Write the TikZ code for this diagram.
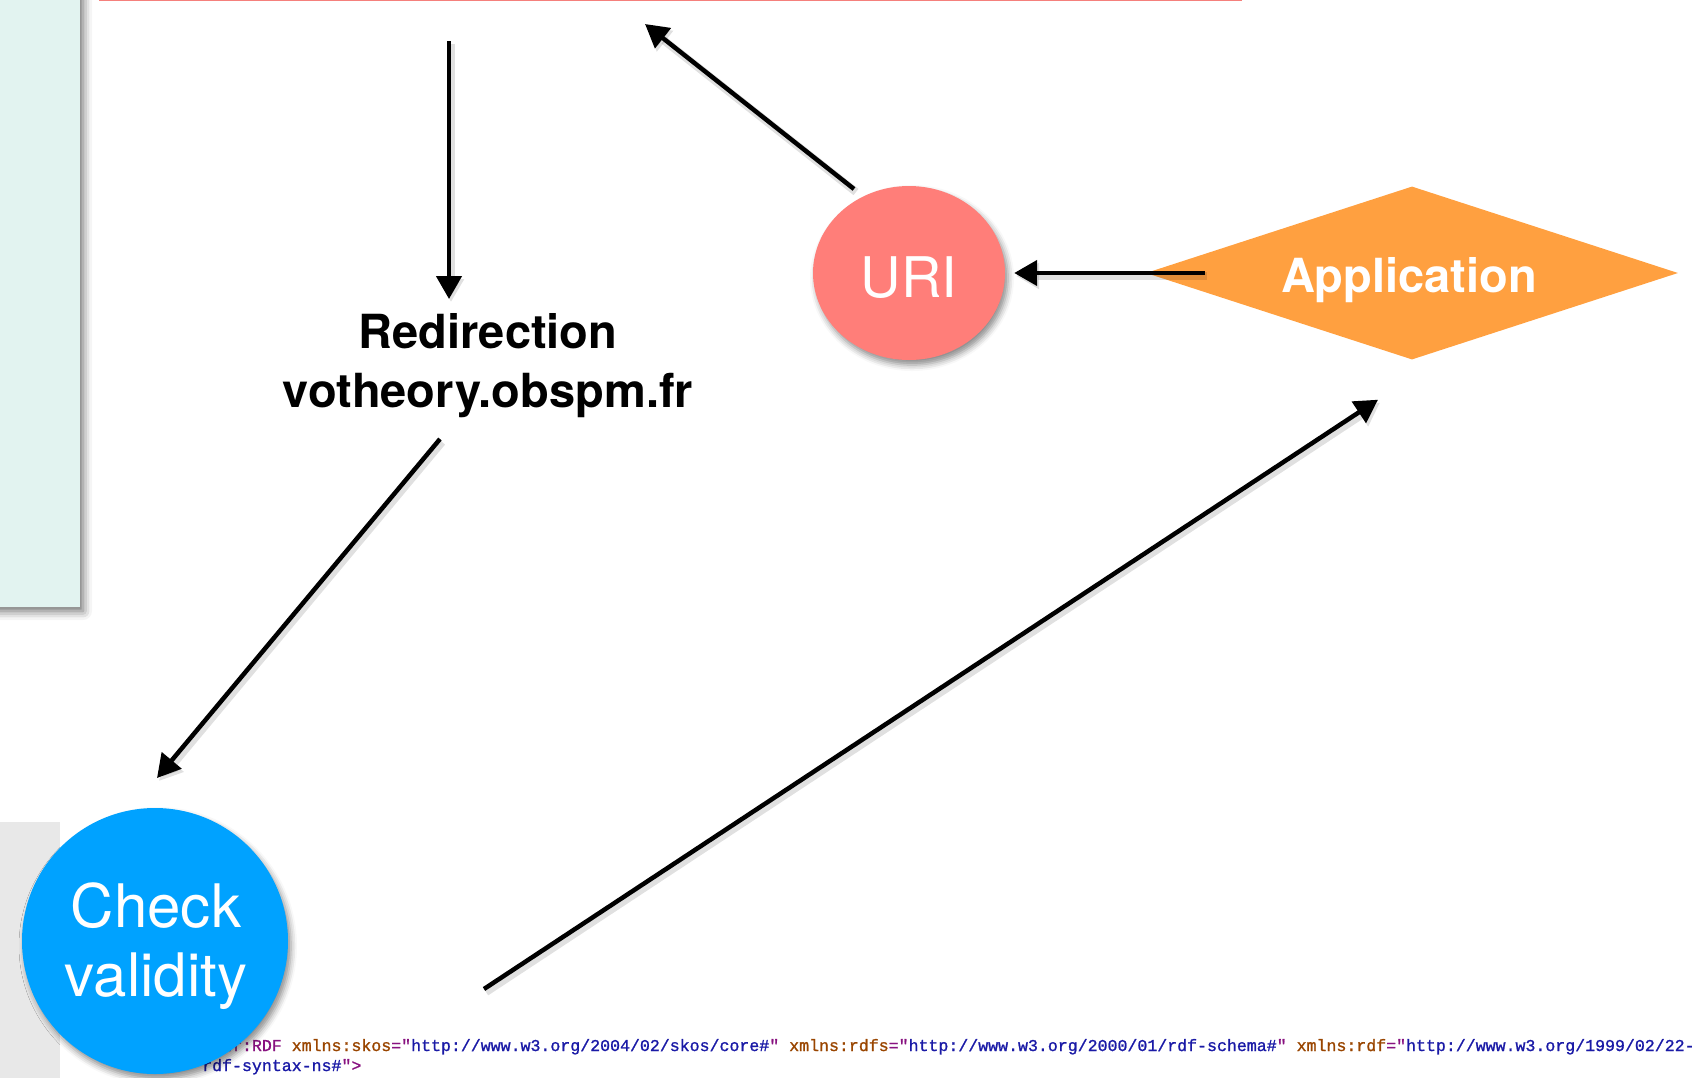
\documentclass[tikz,border=0pt]{standalone}
\usepackage{fontspec}
\setmainfont{TeX Gyre Heros}
\newfontfamily\codefont[FakeBold=1.2]{Liberation Mono}
\usetikzlibrary{arrows.meta,shapes.geometric,shadows.blur}

\definecolor{panelmint}{HTML}{E2F3F0}
\definecolor{panelgray}{HTML}{E8E8E8}
\definecolor{edgesalmon}{HTML}{F5807C}
\definecolor{urifill}{HTML}{FF7E79}
\definecolor{appfill}{HTML}{FFA040}
\definecolor{checkfill}{HTML}{00A2FF}
\definecolor{tagpurple}{HTML}{881280}
\definecolor{attrbrown}{HTML}{994500}
\definecolor{valblue}{HTML}{1A1AA6}

% syntax colouring for the XML source line
\newcommand{\xtag}[1]{\textcolor{tagpurple}{#1}}
\newcommand{\xattr}[1]{\textcolor{attrbrown}{#1}}
\newcommand{\xval}[1]{\textcolor{valblue}{#1}}

\tikzset{
  flow/.style={line width=4.5pt, draw=black, line cap=butt,
    -{Triangle[length=23pt,width=25pt]},
    preaction={draw=black, opacity=0.12, line width=8pt,
      transform canvas={shift={(2pt,-3pt)}}}},
  softshadow/.style={blur shadow={shadow xshift=3pt, shadow yshift=-5pt,
      shadow blur radius=6pt, shadow opacity=45}},
  boldlabel/.style={font=\fontsize{47}{59}\selectfont\bfseries, align=center, inner sep=0pt},
  whitelabel/.style={text=white, inner sep=0pt},
}

\begin{document}
\begin{tikzpicture}[x=1pt,y=-1pt]
\useasboundingbox (0,0) rectangle (1695,1077);
\clip (0,0) rectangle (1695,1077);

% side panels at the left edge
\fill[panelmint, blur shadow={shadow xshift=3pt, shadow yshift=-4pt,
      shadow blur radius=9pt, shadow opacity=60}]
  (-20,-20) rectangle (80,607);
\fill[panelgray] (-20,822) rectangle (60,1100);

% box above, only its lower edge is in view
\node[draw=edgesalmon, fill=white, line width=3pt, minimum width=1140pt,
      minimum height=300pt, anchor=south] (topbox) at (670,1) {};

% XML source listing along the bottom (base = baseline of its last line)
\node[font=\fontsize{16.58}{20}\selectfont\codefont, align=left, anchor=base west,
      inner sep=0pt] (code) at (202,1071)
  {\xtag{<rdf:RDF} \xattr{xmlns:skos}\xtag{="}\xval{http://www.w3.org/2004/02/skos/core\#}\xtag{"} \xattr{xmlns:rdfs}\xtag{="}\xval{http://www.w3.org/2000/01/rdf-schema\#}\xtag{"} \xattr{xmlns:rdf}\xtag{="}\xval{http://www.w3.org/1999/02/22-}\\
   \xval{rdf-syntax-ns\#}\xtag{">}};

% shapes
\node[ellipse, fill=urifill, minimum width=192pt, minimum height=174pt,
      inner sep=0pt, softshadow] (uri) at (909,273) {};
\node[whitelabel, font=\fontsize{56}{60}\selectfont, anchor=base] (uritext) at (909,297) {URI};

\node[diamond, fill=appfill, minimum width=532pt, minimum height=173pt,
      inner sep=0pt] (app) at (1412,273) {};
\node[whitelabel, font=\fontsize{47}{54}\selectfont\bfseries, anchor=base] (apptext) at (1409,292) {Application};

\node[circle, fill=checkfill, minimum size=266pt, inner sep=0pt, softshadow] (check) at (155,941) {};
\node[whitelabel, font=\fontsize{60}{69}\selectfont, align=center, anchor=base] (checktext) at (156,996) {Check\\validity};

\node[boldlabel, anchor=base] (redir) at (488,407) {Redirection\\votheory.obspm.fr};

% connectors
\draw[flow] ([shift={(-221,40)}]topbox.south) -- ([shift={(-39,-108)}]redir.base);
\draw[flow] ([shift={(-55,-84)}]uri.center) -- ([shift={(-25,23)}]topbox.south);
\draw[flow] ([shift={(-207,0)}]app.center) -- ([shift={(9,0)}]uri.east);
\draw[flow] ([shift={(-48,32)}]redir.base) -- ([shift={(2,-163)}]check.center);
\draw[flow] ([shift={(329,48)}]check.center) -- ([shift={(-34,40)}]app.south);
\end{tikzpicture}
\end{document}
